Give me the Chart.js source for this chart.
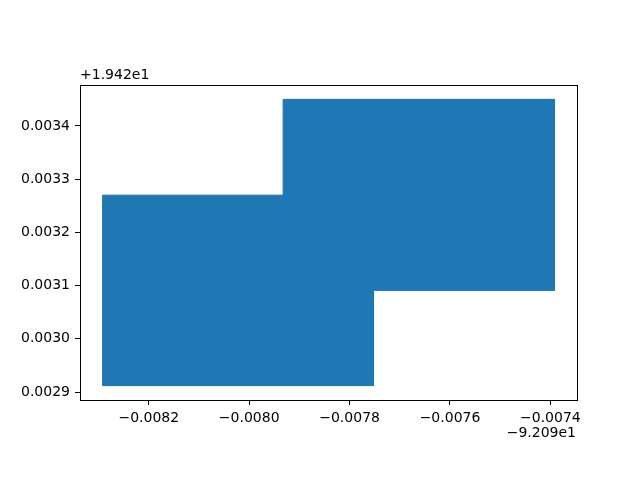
<!DOCTYPE html>
<html>
<head>
<meta charset="utf-8">
<script src="https://cdn.jsdelivr.net/npm/chart.js@4"></script>
<style>
  html, body { margin: 0; padding: 0; background: #fff; }
  #wrap { width: 640px; height: 480px; }
</style>
</head>
<body>
<div id="wrap"><canvas id="c" width="640" height="480"></canvas></div>
<script>
// 축 오프셋 (matplotlib 오프셋 표기)
const X_OFFSET = -92.09;
const Y_OFFSET = 19.42;

// 다각형 꼭짓점 (경도, 위도)
const polyLon = [-92.098292, -92.0979324, -92.0979324, -92.097392, -92.097392, -92.0977527, -92.0977527, -92.098292, -92.098292];
const polyLat = [19.42327, 19.42327, 19.42345, 19.42345, 19.423091, 19.423091, 19.422912, 19.422912, 19.42327];

// 눈금 (오프셋 기준)
const xTicks = [-0.0082, -0.0080, -0.0078, -0.0076, -0.0074];
const xTickLabels = ['\u22120.0082', '\u22120.0080', '\u22120.0078', '\u22120.0076', '\u22120.0074'];
const yTicks = [0.0029, 0.0030, 0.0031, 0.0032, 0.0033, 0.0034];
const yTickLabels = ['0.0029', '0.0030', '0.0031', '0.0032', '0.0033', '0.0034'];
const xOffsetLabel = '\u22129.209e1';
const yOffsetLabel = '+1.942e1';

const FONT = 'DejaVu Sans';
const BLUE = '#1f77b4';

// 테두리 + 오프셋 텍스트
const framePlugin = {
  id: 'frame',
  afterDraw(chart) {
    const { ctx, chartArea: a } = chart;
    ctx.save();
    ctx.strokeStyle = '#000';
    ctx.lineWidth = 1;
    ctx.strokeRect(Math.round(a.left) + 0.5, Math.round(a.top) + 0.5,
      Math.round(a.right - a.left), Math.round(a.bottom - a.top));
    ctx.fillStyle = '#000';
    ctx.font = '14px "' + FONT + '"';
    ctx.textBaseline = 'middle';
    ctx.textAlign = 'left';
    ctx.fillText(yOffsetLabel, a.left, a.top - 10);
    ctx.textAlign = 'right';
    ctx.fillText(xOffsetLabel, a.right - 1, a.bottom + 33);
    ctx.restore();
  }
};

new Chart(document.getElementById('c'), {
  type: 'scatter',
  data: {
    datasets: [{
      data: polyLon.map((x, i) => ({ x, y: polyLat[i] })),
      showLine: true,
      fill: 'shape',
      backgroundColor: BLUE,
      borderColor: BLUE,
      borderWidth: 1,
      pointRadius: 0,
      tension: 0
    }]
  },
  options: {
    responsive: false,
    animation: false,
    devicePixelRatio: 1,
    layout: { padding: { left: 0, right: 63, top: 85, bottom: 0 } },
    plugins: {
      legend: { display: false },
      tooltip: { enabled: false }
    },
    scales: {
      x: {
        type: 'linear',
        min: X_OFFSET - 0.008337,
        max: X_OFFSET - 0.007347,
        afterBuildTicks: s => { s.ticks = xTicks.map(t => ({ value: X_OFFSET + t })); },
        afterFit: s => { s.height = 80; },
        grid: { display: true, drawOnChartArea: false, drawTicks: true, tickLength: 5, color: '#000' },
        border: { display: true, color: '#000', width: 1 },
        ticks: {
          color: '#000',
          font: { family: FONT, size: 14 },
          padding: 5,
          maxRotation: 0,
          autoSkip: false,
          callback: (v, i) => xTickLabels[i]
        }
      },
      y: {
        type: 'linear',
        min: Y_OFFSET + 0.002885,
        max: Y_OFFSET + 0.003477,
        afterBuildTicks: s => { s.ticks = yTicks.map(t => ({ value: Y_OFFSET + t })); },
        afterFit: s => { s.width = 80; },
        grid: { display: true, drawOnChartArea: false, drawTicks: true, tickLength: 5, color: '#000' },
        border: { display: true, color: '#000', width: 1 },
        ticks: {
          color: '#000',
          font: { family: FONT, size: 14 },
          padding: 5,
          autoSkip: false,
          callback: (v, i) => yTickLabels[i]
        }
      }
    }
  },
  plugins: [framePlugin]
});
</script>
</body>
</html>
